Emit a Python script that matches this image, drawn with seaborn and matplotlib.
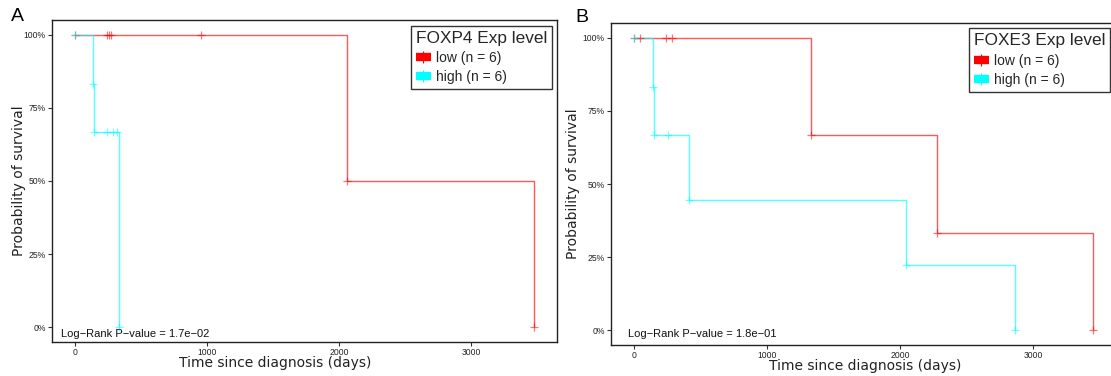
import numpy as np
import pandas as pd
import matplotlib
matplotlib.use("Agg")
import matplotlib.pyplot as plt
from matplotlib.lines import Line2D
import seaborn as sns

sns.set_style("white")
plt.rcParams["font.family"] = ["DejaVu Sans"]

# ---------------- data ----------------
groups = ["low", "high"]
group_n = [6, 6]
genes = ["FOXP4", "FOXE3"]
pvalues = ["1.7e\u221202", "1.8e\u221201"]
panel_letters = ["A", "B"]

# Panel A (FOXP4)
A_low_event_t = [2060, 3477]
A_low_event_s = [0.5, 0.0]
A_low_cens_t = [242, 255, 270, 955]
A_low_cens_s = [1.0, 1.0, 1.0, 1.0]
A_high_event_t = [139, 146, 336]
A_high_event_s = [0.833, 0.667, 0.0]
A_high_cens_t = [245, 290, 320]
A_high_cens_s = [0.667, 0.667, 0.667]

# Panel B (FOXE3)
B_low_event_t = [1333, 2276, 3452]
B_low_event_s = [0.667, 0.333, 0.0]
B_low_cens_t = [48, 241, 286]
B_low_cens_s = [1.0, 1.0, 1.0]
B_high_event_t = [140, 148, 416, 2045, 2865]
B_high_event_s = [0.833, 0.667, 0.444, 0.222, 0.0]
B_high_cens_t = [258]
B_high_cens_s = [0.667]

x_ticks = [0, 1000, 2000, 3000]
y_ticks = [0, 0.25, 0.5, 0.75, 1.0]
y_ticklabels = ["0%", "25%", "50%", "75%", "100%"]

colors = {"low": "#FF0000", "high": "#00FFFF"}

panels = [
    {"low": (A_low_event_t, A_low_event_s, A_low_cens_t, A_low_cens_s),
     "high": (A_high_event_t, A_high_event_s, A_high_cens_t, A_high_cens_s)},
    {"low": (B_low_event_t, B_low_event_s, B_low_cens_t, B_low_cens_s),
     "high": (B_high_event_t, B_high_event_s, B_high_cens_t, B_high_cens_s)},
]

# ---------------- layout ----------------
W, H = 1111, 376
fig = plt.figure(figsize=(W / 100, H / 100), dpi=100)
ax_rects = [
    [52 / W, (H - 342) / H, 505 / W, 322 / H],
    [611 / W, (H - 345) / H, 505 / W, 322 / H],
]
xlabel_x = [0.4416, 0.503]
ylabel_x = [-0.051, -0.061]
pval_pos = [(0.017, 0.025), (0.033, 0.033)]
letter_pos = [(11 / W, (H - 16.5) / H), (575 / W, (H - 18) / H)]
legend_anchor = [(0.990, 0.982), (0.988, 0.983)]

sans = ["Liberation Sans", "DejaVu Sans"]

for i, (rect, pdata) in enumerate(zip(ax_rects, panels)):
    ax = fig.add_axes(rect)
    tmax = 0
    for g in groups:
        ev_t, ev_s, c_t, c_s = pdata[g]
        line_t = [0] + list(ev_t)
        line_s = [1.0] + list(ev_s)
        tmax = max(tmax, max(line_t + list(c_t)))
        df_line = pd.DataFrame({"time": line_t, "surv": line_s})
        sns.lineplot(data=df_line, x="time", y="surv", ax=ax, color=colors[g],
                     drawstyle="steps-post", estimator=None, sort=False,
                     lw=1.0, alpha=0.65)
        mk_t = [0] + list(c_t) + list(ev_t)
        mk_s = [1.0] + list(c_s) + list(ev_s)
        df_mk = pd.DataFrame({"time": mk_t, "surv": mk_s})
        sns.scatterplot(data=df_mk, x="time", y="surv", ax=ax, marker="+",
                        color=colors[g], s=30, linewidth=0.9, alpha=0.55,
                        zorder=3)
    ax.set_xlim(-0.05 * tmax, 1.05 * tmax)
    ax.set_ylim(-0.05, 1.05)
    ax.set_xticks(x_ticks)
    ax.set_xticklabels([str(t) for t in x_ticks], family=sans, fontsize=6.2,
                       color="#222222")
    ax.set_yticks(y_ticks)
    ax.set_yticklabels(y_ticklabels, family=sans, fontsize=6.2, color="#222222")
    ax.tick_params(axis="both", which="both", length=3, width=0.8,
                   color="#333333", pad=1.5, direction="out",
                   bottom=True, left=True)
    for sp in ax.spines.values():
        sp.set_color("#222222")
        sp.set_linewidth(1.0)
        sp.set_visible(True)
    ax.set_xlabel("Time since diagnosis (days)", fontsize=10, color="#222222")
    ax.xaxis.set_label_coords(xlabel_x[i], -0.045)
    ax.set_ylabel("Probability of survival", fontsize=10, color="#222222")
    ax.yaxis.set_label_coords(ylabel_x[i], 0.5)
    ax.text(pval_pos[i][0], pval_pos[i][1], "Log\u2212Rank P\u2212value = " + pvalues[i],
            transform=ax.transAxes, family=sans, fontsize=8, color="#111111",
            ha="left", va="center")
    handles = [Line2D([0], [0], color=colors[g], lw=6, marker="|",
                      markersize=9, markeredgewidth=0.8,
                      markeredgecolor=colors[g], solid_capstyle="butt")
               for g in groups]
    labels = [f"{g} (n = {n})" for g, n in zip(groups, group_n)]
    leg = ax.legend(handles, labels, title=f"{genes[i]} Exp level",
                    loc="upper right", bbox_to_anchor=legend_anchor[i],
                    frameon=True, fancybox=False, edgecolor="black",
                    prop={"family": sans, "size": 10},
                    title_fontproperties={"family": sans, "size": 12.4},
                    handlelength=1.1, handletextpad=0.35, borderpad=0.35,
                    labelspacing=0.38, borderaxespad=0)
    leg._legend_box.align = "left"
    leg.get_frame().set_linewidth(1.0)
    fig.text(letter_pos[i][0], letter_pos[i][1], panel_letters[i],
             family=sans, fontsize=14, ha="left", va="center", color="black")

fig.savefig("out.png", dpi=100)
